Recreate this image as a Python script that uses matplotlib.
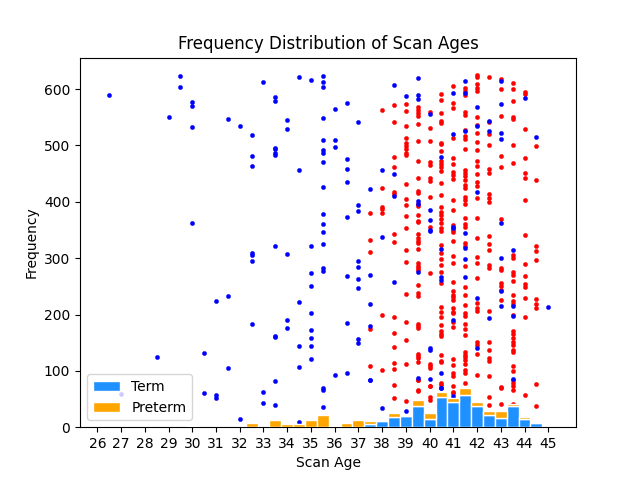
import matplotlib
matplotlib.use('Agg')
import matplotlib.pyplot as plt

bar_ages = [30, 32.5, 33.5, 34, 34.5, 35, 35.5, 36, 36.5, 37, 37.5, 38, 38.5, 39, 39.5, 40, 40.5, 41, 41.5, 42, 42.5, 43, 43.5, 44, 44.5]
term_counts = [0, 0, 0, 0, 0, 0, 0, 0, 0, 0, 5, 11, 18, 20, 38, 15, 54, 44, 58, 37, 22, 17, 37, 15, 8]
preterm_counts = [2, 8, 12, 5, 6, 12, 21, 3, 8, 12, 6, 0, 7, 0, 10, 10, 8, 8, 11, 8, 6, 11, 4, 3, 0]

blue_ages = [26.5, 27, 28.5, 29, 29.5, 30, 30.5, 31, 31.5, 32, 32.5, 33, 33.5, 34, 34.5, 35, 35.5, 36, 36.5,
             37, 37.5, 38, 38.5, 39, 39.5, 40, 40.5, 41, 41.5, 42, 42.5, 43, 43.5, 44, 44.5, 45]
blue_freqs = [
    [589], [59], [125], [551], [624, 604], [577, 570, 532, 363], [132, 60], [224, 58, 51],
    [547, 233, 105], [534, 15], [519, 482, 463, 309, 305, 295, 183], [612, 63, 43],
    [586, 579, 496, 493, 486, 483, 322, 162, 160, 82, 39], [545, 530, 307, 190, 176],
    [622, 456, 222, 144, 107, 9], [617, 321, 273, 251, 203, 172, 159, 144, 121],
    [624, 613, 603, 548, 509, 492, 487, 470, 426, 378, 361, 347, 325, 282, 278, 69, 66, 36],
    [564, 510, 498, 93], [575, 476, 459, 435, 373, 268, 185, 96],
    [542, 395, 383, 295, 285, 263, 247, 157, 150], [422, 270, 219, 179, 84, 83],
    [457, 337, 34], [608, 449, 411, 258], [588, 28], [619, 589, 583, 402, 396, 275, 88],
    [556, 386, 368, 350, 349, 141, 137, 85], [479, 316, 266, 261, 97, 70, 69],
    [593, 521, 353, 356, 190, 56], [615, 594, 525, 344, 318, 298, 267],
    [569, 534, 418, 229, 141], [543, 526, 193], [615, 573, 522, 512, 362, 301, 242, 215],
    [314, 216, 197, 86], [584], [515], [214],
]

red_ages = [37.5, 38, 38.5, 39, 39.5, 40, 40.5, 41, 41.5, 42, 42.5, 43, 43.5, 44, 44.5]
red_freqs = [
    [381, 333, 311, 175, 108],
    [563, 424, 391, 387, 380, 199, 102],
    [571, 541, 480, 462, 418, 414, 343, 329, 195, 168, 143, 114, 103, 75, 52],
    [574, 562, 535, 513, 504, 499, 493, 487, 483, 432, 405, 394, 374, 353, 315, 293, 237, 187, 154, 112, 47],
    [568, 563, 558, 553, 538, 508, 473, 442, 419, 416, 397, 393, 376, 366, 364, 343, 335, 331, 327, 317, 291, 287, 283, 279, 252, 239, 233, 184, 180, 176, 130, 126, 122, 116, 84, 66, 83, 64],
    [559, 531, 508, 471, 465, 442, 437, 409, 356, 274, 112, 109, 105, 74, 73, 54, 49],
    [592, 581, 558, 544, 540, 505, 503, 490, 473, 467, 461, 455, 433, 413, 390, 382, 377, 369, 363, 353, 349, 324, 309, 298, 288, 276, 256, 213, 205, 196, 181, 170, 166, 162, 128, 118, 115, 78, 75],
    [605, 576, 566, 514, 477, 468, 453, 448, 441, 403, 386, 359, 350, 347, 331, 303, 291, 257, 241, 235, 231, 226, 211, 205, 202, 186, 178, 121, 111, 96, 90, 73, 63, 60],
    [602, 596, 590, 560, 554, 528, 517, 511, 493, 457, 451, 445, 439, 430, 425, 409, 403, 396, 371, 361, 356, 327, 321, 286, 248, 234, 217, 202, 198, 183, 174, 164, 134, 129, 125, 119, 113, 102, 96, 79],
    [625, 621, 609, 602, 597, 550, 537, 523, 506, 492, 473, 464, 450, 436, 428, 407, 372, 335, 302, 292, 264, 221, 211, 207, 152, 146, 130, 92],
    [621, 541, 521, 501, 458, 451, 414, 406, 399, 340, 326, 314, 288, 282, 206, 151, 137, 122, 118, 90, 54, 40],
    [618, 600, 553, 481, 461, 370, 282, 279, 256, 250, 244, 225, 71, 70, 41],
    [611, 600, 579, 550, 547, 500, 469, 306, 300, 276, 270, 259, 235, 224, 219, 200, 171, 165, 158, 152, 146, 137, 134, 109, 100, 83, 79, 73, 66, 42],
    [595, 591, 529, 478, 452, 443, 404, 341, 289, 269, 254, 248, 230, 195, 57],
    [499, 439, 321, 312, 296, 228, 218, 211, 76, 37],
]

tick_ages = list(range(26, 46))

fig, ax = plt.subplots(figsize=(6.4, 4.8), dpi=100)

for age, freqs in zip(red_ages, red_freqs):
    ax.scatter([age] * len(freqs), freqs, s=10, color='red', linewidths=0.2, zorder=2)
for age, freqs in zip(blue_ages, blue_freqs):
    ax.scatter([age] * len(freqs), freqs, s=10, color='blue', linewidths=0.2, zorder=2.1)

ax.bar(bar_ages, term_counts, width=0.5, color='dodgerblue', edgecolor='white', label='Term', zorder=3)
ax.bar(bar_ages, preterm_counts, width=0.5, bottom=term_counts, color='orange', edgecolor='white', label='Preterm', zorder=3)

ax.set_xticks(tick_ages)
ax.set_xlim(25.27, 46.17)
ax.set_ylim(0, 656)
ax.set_xlabel('Scan Age')
ax.set_ylabel('Frequency')
ax.set_title('Frequency Distribution of Scan Ages')
ax.legend(loc='lower left').set_zorder(5)

fig.savefig('out.png', dpi=100)
